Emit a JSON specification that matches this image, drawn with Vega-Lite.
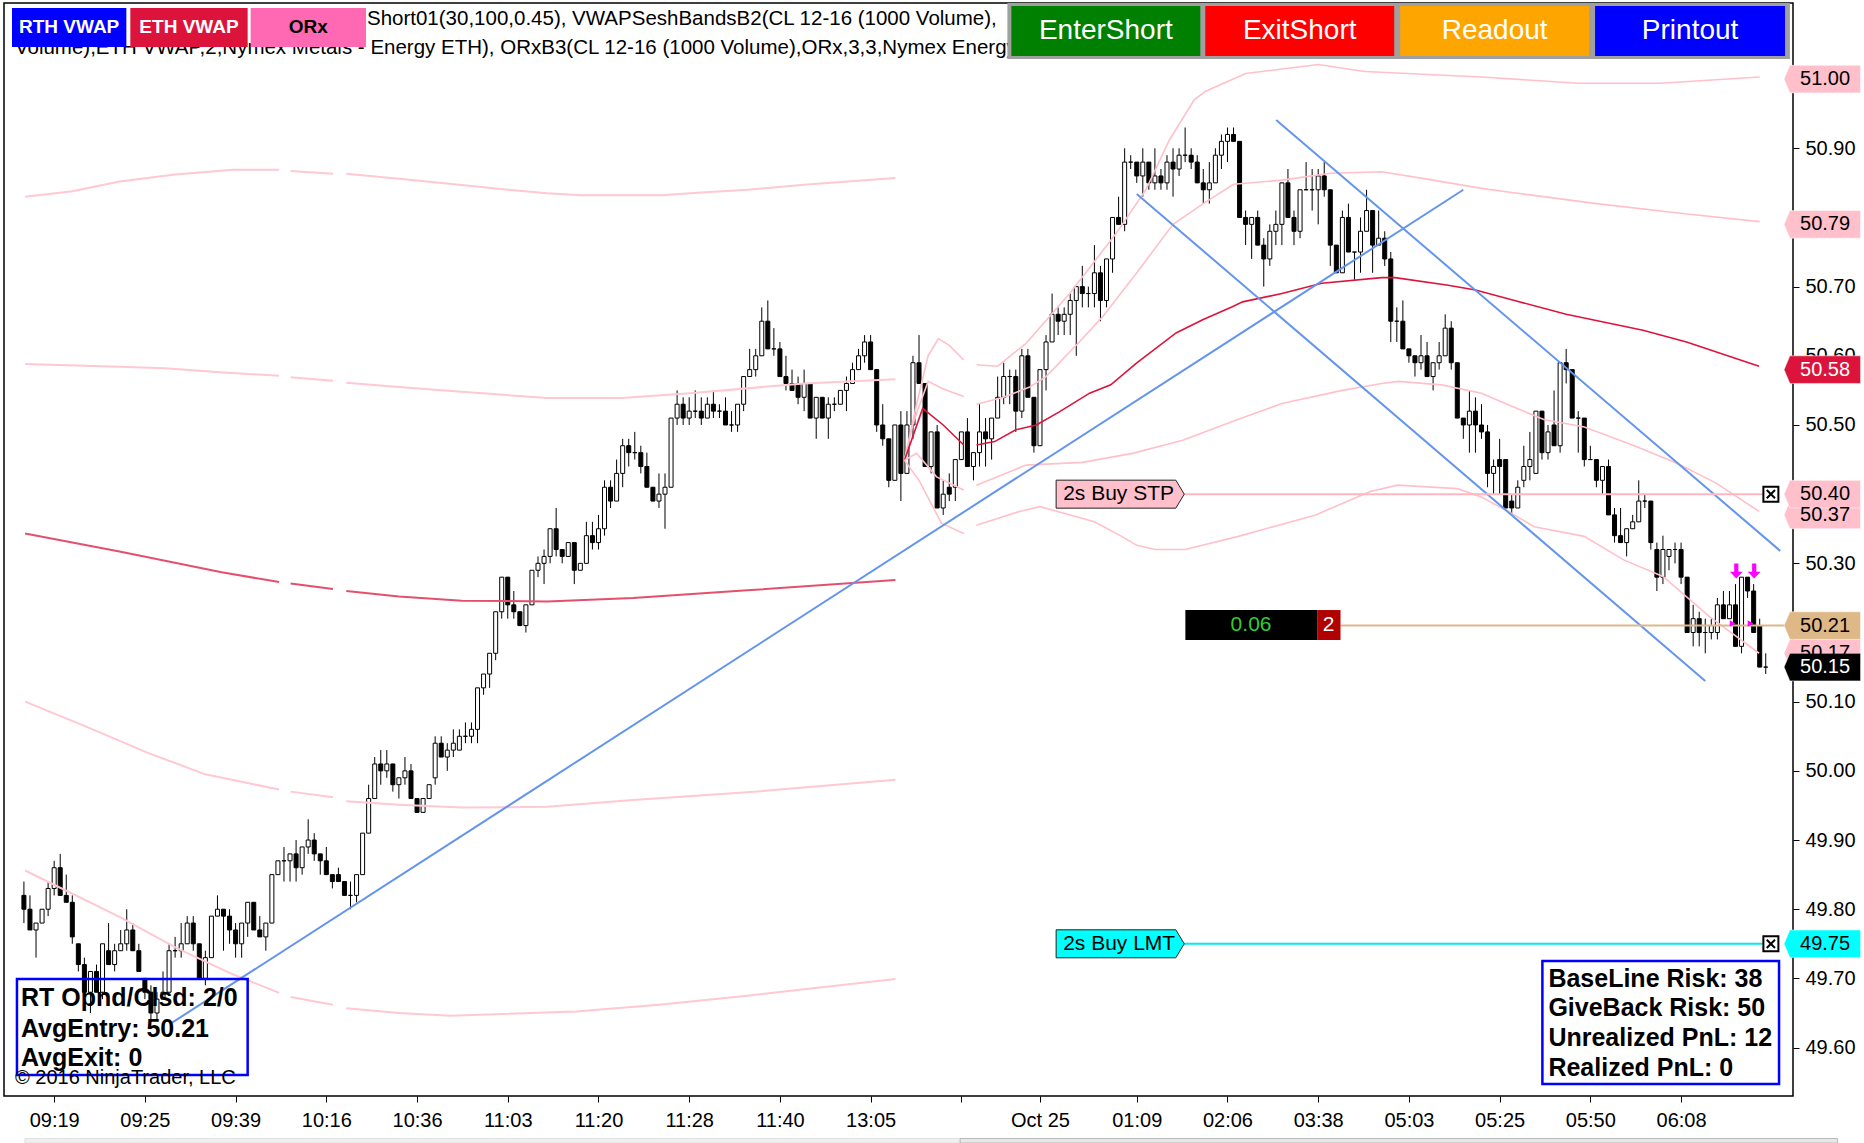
{
"$schema":"https://vega.github.io/schema/vega-lite/v6.json",
"width":1789,"height":1093,
"autosize":{"type":"none"},
"padding":{"left":4,"top":3,"right":71,"bottom":47},
"background":"white",
"config":{"view":{"stroke":"black","strokeWidth":1.5},"font":"Liberation Sans"},
"datasets":{
"candles":[
{"i":0,"o":49.82,"h":49.84,"l":49.78,"c":49.80},{"i":1,"o":49.80,"h":49.82,"l":49.77,"c":49.77},{"i":2,"o":49.77,"h":49.78,"l":49.73,"c":49.78},{"i":3,"o":49.78,"h":49.80,"l":49.78,"c":49.80},{"i":4,"o":49.80,"h":49.84,"l":49.79,"c":49.83},{"i":5,"o":49.83,"h":49.87,"l":49.82,"c":49.86},{"i":6,"o":49.86,"h":49.88,"l":49.82,"c":49.82},{"i":7,"o":49.82,"h":49.85,"l":49.81,"c":49.81},{"i":8,"o":49.81,"h":49.82,"l":49.75,"c":49.76},{"i":9,"o":49.75,"h":49.75,"l":49.71,"c":49.72},
{"i":10,"o":49.72,"h":49.73,"l":49.68,"c":49.68},{"i":11,"o":49.68,"h":49.71,"l":49.65,"c":49.71},{"i":12,"o":49.71,"h":49.72,"l":49.68,"c":49.68},{"i":13,"o":49.68,"h":49.75,"l":49.67,"c":49.75},{"i":14,"o":49.74,"h":49.78,"l":49.72,"c":49.72},{"i":15,"o":49.72,"h":49.75,"l":49.71,"c":49.74},{"i":16,"o":49.74,"h":49.77,"l":49.74,"c":49.75},{"i":17,"o":49.75,"h":49.80,"l":49.74,"c":49.77},{"i":18,"o":49.77,"h":49.78,"l":49.74,"c":49.74},{"i":19,"o":49.74,"h":49.75,"l":49.71,"c":49.71},
{"i":20,"o":49.70,"h":49.70,"l":49.67,"c":49.68},{"i":21,"o":49.68,"h":49.69,"l":49.64,"c":49.65},{"i":22,"o":49.65,"h":49.68,"l":49.64,"c":49.67},{"i":23,"o":49.67,"h":49.71,"l":49.67,"c":49.68},{"i":24,"o":49.68,"h":49.75,"l":49.68,"c":49.74},{"i":25,"o":49.74,"h":49.76,"l":49.73,"c":49.74},{"i":26,"o":49.74,"h":49.78,"l":49.73,"c":49.75},{"i":27,"o":49.75,"h":49.79,"l":49.75,"c":49.78},{"i":28,"o":49.78,"h":49.79,"l":49.74,"c":49.75},{"i":29,"o":49.75,"h":49.75,"l":49.70,"c":49.70},
{"i":30,"o":49.70,"h":49.74,"l":49.69,"c":49.73},{"i":31,"o":49.73,"h":49.79,"l":49.73,"c":49.79},{"i":32,"o":49.79,"h":49.82,"l":49.79,"c":49.80},{"i":33,"o":49.80,"h":49.80,"l":49.74,"c":49.79},{"i":34,"o":49.79,"h":49.80,"l":49.75,"c":49.77},{"i":35,"o":49.77,"h":49.78,"l":49.73,"c":49.75},{"i":36,"o":49.75,"h":49.78,"l":49.73,"c":49.78},{"i":37,"o":49.78,"h":49.81,"l":49.76,"c":49.81},{"i":38,"o":49.81,"h":49.81,"l":49.77,"c":49.77},{"i":39,"o":49.77,"h":49.79,"l":49.76,"c":49.76},
{"i":40,"o":49.76,"h":49.78,"l":49.74,"c":49.78},{"i":41,"o":49.78,"h":49.85,"l":49.78,"c":49.85},{"i":42,"o":49.85,"h":49.87,"l":49.85,"c":49.87},{"i":43,"o":49.87,"h":49.89,"l":49.84,"c":49.87},{"i":44,"o":49.87,"h":49.88,"l":49.84,"c":49.88},{"i":45,"o":49.88,"h":49.90,"l":49.84,"c":49.86},{"i":46,"o":49.86,"h":49.89,"l":49.85,"c":49.89},{"i":47,"o":49.89,"h":49.93,"l":49.88,"c":49.90},{"i":48,"o":49.90,"h":49.91,"l":49.87,"c":49.88},{"i":49,"o":49.88,"h":49.88,"l":49.85,"c":49.87},
{"i":50,"o":49.87,"h":49.89,"l":49.85,"c":49.85},{"i":51,"o":49.85,"h":49.85,"l":49.83,"c":49.84},{"i":52,"o":49.85,"h":49.86,"l":49.84,"c":49.84},{"i":53,"o":49.84,"h":49.84,"l":49.82,"c":49.82},{"i":54,"o":49.82,"h":49.84,"l":49.80,"c":49.82},{"i":55,"o":49.82,"h":49.85,"l":49.81,"c":49.85},{"i":56,"o":49.85,"h":49.91,"l":49.85,"c":49.91},{"i":57,"o":49.91,"h":49.98,"l":49.91,"c":49.96},{"i":58,"o":49.96,"h":50.02,"l":49.96,"c":50.01},{"i":59,"o":50.01,"h":50.03,"l":49.98,"c":50.00},
{"i":60,"o":50.00,"h":50.03,"l":49.99,"c":50.01},{"i":61,"o":50.01,"h":50.01,"l":49.97,"c":49.98},{"i":62,"o":49.98,"h":49.99,"l":49.96,"c":49.99},{"i":63,"o":49.99,"h":50.02,"l":49.98,"c":50.00},{"i":64,"o":50.00,"h":50.01,"l":49.96,"c":49.96},{"i":65,"o":49.96,"h":49.96,"l":49.94,"c":49.94},{"i":66,"o":49.94,"h":49.96,"l":49.94,"c":49.96},{"i":67,"o":49.96,"h":49.98,"l":49.96,"c":49.98},{"i":68,"o":49.99,"h":50.05,"l":49.98,"c":50.04},{"i":69,"o":50.04,"h":50.05,"l":50.02,"c":50.02},
{"i":70,"o":50.02,"h":50.04,"l":50.00,"c":50.03},{"i":71,"o":50.03,"h":50.06,"l":50.02,"c":50.04},{"i":72,"o":50.03,"h":50.06,"l":50.03,"c":50.05},{"i":73,"o":50.05,"h":50.07,"l":50.04,"c":50.05},{"i":74,"o":50.05,"h":50.07,"l":50.04,"c":50.06},{"i":75,"o":50.06,"h":50.12,"l":50.04,"c":50.12},{"i":76,"o":50.12,"h":50.14,"l":50.11,"c":50.14},{"i":77,"o":50.14,"h":50.17,"l":50.12,"c":50.17},{"i":78,"o":50.17,"h":50.23,"l":50.16,"c":50.23},{"i":79,"o":50.23,"h":50.28,"l":50.22,"c":50.28},
{"i":80,"o":50.28,"h":50.28,"l":50.22,"c":50.24},{"i":81,"o":50.24,"h":50.26,"l":50.22,"c":50.23},{"i":82,"o":50.23,"h":50.23,"l":50.21,"c":50.21},{"i":83,"o":50.21,"h":50.24,"l":50.20,"c":50.24},{"i":84,"o":50.24,"h":50.29,"l":50.24,"c":50.29},{"i":85,"o":50.29,"h":50.31,"l":50.28,"c":50.30},{"i":86,"o":50.30,"h":50.32,"l":50.27,"c":50.31},{"i":87,"o":50.31,"h":50.35,"l":50.30,"c":50.35},{"i":88,"o":50.35,"h":50.38,"l":50.31,"c":50.32},{"i":89,"o":50.32,"h":50.32,"l":50.30,"c":50.31},
{"i":90,"o":50.31,"h":50.33,"l":50.31,"c":50.33},{"i":91,"o":50.33,"h":50.33,"l":50.27,"c":50.29},{"i":92,"o":50.29,"h":50.30,"l":50.29,"c":50.30},{"i":93,"o":50.30,"h":50.36,"l":50.30,"c":50.34},{"i":94,"o":50.34,"h":50.36,"l":50.32,"c":50.33},{"i":95,"o":50.33,"h":50.37,"l":50.32,"c":50.35},{"i":96,"o":50.35,"h":50.42,"l":50.34,"c":50.41},{"i":97,"o":50.41,"h":50.42,"l":50.38,"c":50.39},{"i":98,"o":50.39,"h":50.45,"l":50.39,"c":50.43},{"i":99,"o":50.43,"h":50.48,"l":50.41,"c":50.47},
{"i":100,"o":50.47,"h":50.48,"l":50.44,"c":50.46},{"i":101,"o":50.46,"h":50.49,"l":50.45,"c":50.46},{"i":102,"o":50.46,"h":50.47,"l":50.43,"c":50.44},{"i":103,"o":50.44,"h":50.46,"l":50.41,"c":50.41},{"i":104,"o":50.41,"h":50.41,"l":50.39,"c":50.39},{"i":105,"o":50.39,"h":50.43,"l":50.38,"c":50.40},{"i":106,"o":50.40,"h":50.43,"l":50.35,"c":50.41},{"i":107,"o":50.41,"h":50.51,"l":50.41,"c":50.51},{"i":108,"o":50.51,"h":50.55,"l":50.50,"c":50.53},{"i":109,"o":50.53,"h":50.54,"l":50.50,"c":50.51},
{"i":110,"o":50.51,"h":50.54,"l":50.50,"c":50.52},{"i":111,"o":50.52,"h":50.55,"l":50.51,"c":50.52},{"i":112,"o":50.52,"h":50.54,"l":50.50,"c":50.51},{"i":113,"o":50.51,"h":50.54,"l":50.51,"c":50.53},{"i":114,"o":50.53,"h":50.55,"l":50.51,"c":50.52},{"i":115,"o":50.52,"h":50.53,"l":50.51,"c":50.52},{"i":116,"o":50.52,"h":50.54,"l":50.50,"c":50.50},{"i":117,"o":50.50,"h":50.52,"l":50.49,"c":50.50},{"i":118,"o":50.50,"h":50.53,"l":50.49,"c":50.53},{"i":119,"o":50.53,"h":50.57,"l":50.52,"c":50.57},
{"i":120,"o":50.57,"h":50.61,"l":50.57,"c":50.58},{"i":121,"o":50.58,"h":50.61,"l":50.57,"c":50.60},{"i":122,"o":50.60,"h":50.67,"l":50.60,"c":50.65},{"i":123,"o":50.65,"h":50.68,"l":50.61,"c":50.61},{"i":124,"o":50.61,"h":50.64,"l":50.60,"c":50.61},{"i":125,"o":50.61,"h":50.62,"l":50.57,"c":50.57},{"i":126,"o":50.57,"h":50.60,"l":50.55,"c":50.56},{"i":127,"o":50.56,"h":50.58,"l":50.55,"c":50.55},{"i":128,"o":50.56,"h":50.57,"l":50.53,"c":50.54},{"i":129,"o":50.54,"h":50.58,"l":50.52,"c":50.56},
{"i":130,"o":50.56,"h":50.56,"l":50.51,"c":50.51},{"i":131,"o":50.51,"h":50.54,"l":50.48,"c":50.54},{"i":132,"o":50.54,"h":50.54,"l":50.51,"c":50.51},{"i":133,"o":50.51,"h":50.54,"l":50.48,"c":50.53},{"i":134,"o":50.53,"h":50.54,"l":50.52,"c":50.53},{"i":135,"o":50.53,"h":50.55,"l":50.53,"c":50.55},{"i":136,"o":50.55,"h":50.57,"l":50.52,"c":50.56},{"i":137,"o":50.56,"h":50.59,"l":50.56,"c":50.58},{"i":138,"o":50.58,"h":50.61,"l":50.58,"c":50.60},{"i":139,"o":50.60,"h":50.63,"l":50.59,"c":50.62},
{"i":140,"o":50.62,"h":50.63,"l":50.58,"c":50.58},{"i":141,"o":50.58,"h":50.58,"l":50.49,"c":50.50},{"i":142,"o":50.50,"h":50.53,"l":50.47,"c":50.48},{"i":143,"o":50.48,"h":50.48,"l":50.41,"c":50.42},{"i":144,"o":50.42,"h":50.50,"l":50.42,"c":50.50},{"i":145,"o":50.50,"h":50.52,"l":50.39,"c":50.43},{"i":146,"o":50.43,"h":50.52,"l":50.43,"c":50.50},{"i":147,"o":50.50,"h":50.60,"l":50.48,"c":50.59},{"i":148,"o":50.59,"h":50.63,"l":50.56,"c":50.56},{"i":149,"o":50.56,"h":50.56,"l":50.44,"c":50.44},
{"i":150,"o":50.44,"h":50.49,"l":50.43,"c":50.49},{"i":151,"o":50.49,"h":50.50,"l":50.38,"c":50.38},{"i":152,"o":50.38,"h":50.42,"l":50.37,"c":50.40},{"i":153,"o":50.41,"h":50.43,"l":50.39,"c":50.40},{"i":154,"o":50.41,"h":50.45,"l":50.39,"c":50.45},{"i":155,"o":50.45,"h":50.49,"l":50.45,"c":50.49},{"i":156,"o":50.49,"h":50.51,"l":50.44,"c":50.44},{"i":157,"o":50.44,"h":50.46,"l":50.42,"c":50.46},{"i":158,"o":50.46,"h":50.53,"l":50.44,"c":50.49},{"i":159,"o":50.49,"h":50.51,"l":50.44,"c":50.48},
{"i":160,"o":50.48,"h":50.51,"l":50.45,"c":50.51},{"i":161,"o":50.51,"h":50.57,"l":50.51,"c":50.54},{"i":162,"o":50.54,"h":50.59,"l":50.53,"c":50.57},{"i":163,"o":50.57,"h":50.58,"l":50.53,"c":50.57},{"i":164,"o":50.57,"h":50.58,"l":50.49,"c":50.52},{"i":165,"o":50.52,"h":50.61,"l":50.51,"c":50.60},{"i":166,"o":50.60,"h":50.61,"l":50.54,"c":50.54},{"i":167,"o":50.54,"h":50.54,"l":50.46,"c":50.47},{"i":168,"o":50.47,"h":50.58,"l":50.47,"c":50.58},{"i":169,"o":50.58,"h":50.63,"l":50.55,"c":50.62},
{"i":170,"o":50.62,"h":50.69,"l":50.62,"c":50.66},{"i":171,"o":50.66,"h":50.67,"l":50.63,"c":50.65},{"i":172,"o":50.65,"h":50.67,"l":50.63,"c":50.66},{"i":173,"o":50.66,"h":50.69,"l":50.63,"c":50.68},{"i":174,"o":50.68,"h":50.70,"l":50.60,"c":50.70},{"i":175,"o":50.70,"h":50.73,"l":50.67,"c":50.69},{"i":176,"o":50.69,"h":50.70,"l":50.67,"c":50.69},{"i":177,"o":50.69,"h":50.76,"l":50.67,"c":50.72},{"i":178,"o":50.72,"h":50.73,"l":50.65,"c":50.68},{"i":179,"o":50.68,"h":50.74,"l":50.67,"c":50.74},
{"i":180,"o":50.74,"h":50.80,"l":50.72,"c":50.80},{"i":181,"o":50.80,"h":50.83,"l":50.79,"c":50.79},{"i":182,"o":50.79,"h":50.90,"l":50.78,"c":50.88},{"i":183,"o":50.88,"h":50.89,"l":50.87,"c":50.88},{"i":184,"o":50.88,"h":50.88,"l":50.85,"c":50.86},{"i":185,"o":50.86,"h":50.90,"l":50.83,"c":50.88},{"i":186,"o":50.88,"h":50.88,"l":50.84,"c":50.85},{"i":187,"o":50.85,"h":50.90,"l":50.84,"c":50.86},{"i":188,"o":50.86,"h":50.87,"l":50.84,"c":50.85},{"i":189,"o":50.85,"h":50.89,"l":50.84,"c":50.88},
{"i":190,"o":50.88,"h":50.90,"l":50.83,"c":50.87},{"i":191,"o":50.87,"h":50.90,"l":50.86,"c":50.89},{"i":192,"o":50.89,"h":50.93,"l":50.88,"c":50.89},{"i":193,"o":50.89,"h":50.90,"l":50.87,"c":50.88},{"i":194,"o":50.88,"h":50.89,"l":50.85,"c":50.85},{"i":195,"o":50.85,"h":50.87,"l":50.82,"c":50.84},{"i":196,"o":50.84,"h":50.88,"l":50.82,"c":50.85},{"i":197,"o":50.85,"h":50.90,"l":50.85,"c":50.89},{"i":198,"o":50.89,"h":50.92,"l":50.87,"c":50.91},{"i":199,"o":50.91,"h":50.93,"l":50.88,"c":50.92},
{"i":200,"o":50.92,"h":50.93,"l":50.91,"c":50.91},{"i":201,"o":50.91,"h":50.91,"l":50.80,"c":50.80},{"i":202,"o":50.80,"h":50.81,"l":50.76,"c":50.79},{"i":203,"o":50.79,"h":50.80,"l":50.74,"c":50.80},{"i":204,"o":50.80,"h":50.81,"l":50.76,"c":50.76},{"i":205,"o":50.76,"h":50.77,"l":50.70,"c":50.74},{"i":206,"o":50.74,"h":50.79,"l":50.73,"c":50.78},{"i":207,"o":50.78,"h":50.81,"l":50.76,"c":50.79},{"i":208,"o":50.79,"h":50.85,"l":50.76,"c":50.85},{"i":209,"o":50.85,"h":50.87,"l":50.80,"c":50.80},
{"i":210,"o":50.80,"h":50.81,"l":50.76,"c":50.78},{"i":211,"o":50.78,"h":50.84,"l":50.77,"c":50.84},{"i":212,"o":50.84,"h":50.88,"l":50.84,"c":50.84},{"i":213,"o":50.84,"h":50.87,"l":50.81,"c":50.84},{"i":214,"o":50.84,"h":50.87,"l":50.79,"c":50.86},{"i":215,"o":50.86,"h":50.88,"l":50.83,"c":50.84},{"i":216,"o":50.84,"h":50.84,"l":50.73,"c":50.76},{"i":217,"o":50.76,"h":50.76,"l":50.72,"c":50.72},{"i":218,"o":50.72,"h":50.81,"l":50.72,"c":50.80},{"i":219,"o":50.80,"h":50.82,"l":50.75,"c":50.75},
{"i":220,"o":50.75,"h":50.75,"l":50.71,"c":50.75},{"i":221,"o":50.75,"h":50.80,"l":50.72,"c":50.78},{"i":222,"o":50.78,"h":50.84,"l":50.78,"c":50.81},{"i":223,"o":50.81,"h":50.81,"l":50.72,"c":50.76},{"i":224,"o":50.76,"h":50.81,"l":50.76,"c":50.77},{"i":225,"o":50.77,"h":50.78,"l":50.73,"c":50.74},{"i":226,"o":50.74,"h":50.75,"l":50.62,"c":50.65},{"i":227,"o":50.65,"h":50.67,"l":50.62,"c":50.65},{"i":228,"o":50.65,"h":50.68,"l":50.61,"c":50.61},{"i":229,"o":50.61,"h":50.61,"l":50.59,"c":50.60},
{"i":230,"o":50.60,"h":50.60,"l":50.57,"c":50.59},{"i":231,"o":50.59,"h":50.63,"l":50.58,"c":50.60},{"i":232,"o":50.60,"h":50.62,"l":50.57,"c":50.57},{"i":233,"o":50.57,"h":50.59,"l":50.55,"c":50.59},{"i":234,"o":50.59,"h":50.62,"l":50.58,"c":50.60},{"i":235,"o":50.60,"h":50.66,"l":50.60,"c":50.64},{"i":236,"o":50.64,"h":50.65,"l":50.58,"c":50.59},{"i":237,"o":50.59,"h":50.59,"l":50.51,"c":50.51},{"i":238,"o":50.51,"h":50.51,"l":50.48,"c":50.50},{"i":239,"o":50.50,"h":50.55,"l":50.46,"c":50.52},
{"i":240,"o":50.52,"h":50.54,"l":50.46,"c":50.50},{"i":241,"o":50.50,"h":50.53,"l":50.48,"c":50.49},{"i":242,"o":50.49,"h":50.50,"l":50.41,"c":50.43},{"i":243,"o":50.43,"h":50.45,"l":50.40,"c":50.44},{"i":244,"o":50.45,"h":50.48,"l":50.40,"c":50.44},{"i":245,"o":50.45,"h":50.45,"l":50.38,"c":50.38},{"i":246,"o":50.39,"h":50.40,"l":50.37,"c":50.38},{"i":247,"o":50.38,"h":50.42,"l":50.38,"c":50.41},{"i":248,"o":50.42,"h":50.47,"l":50.41,"c":50.44},{"i":249,"o":50.44,"h":50.49,"l":50.42,"c":50.45},
{"i":250,"o":50.43,"h":50.52,"l":50.43,"c":50.52},{"i":251,"o":50.52,"h":50.52,"l":50.45,"c":50.46},{"i":252,"o":50.46,"h":50.50,"l":50.45,"c":50.49},{"i":253,"o":50.50,"h":50.55,"l":50.47,"c":50.47},{"i":254,"o":50.47,"h":50.59,"l":50.46,"c":50.59},{"i":255,"o":50.59,"h":50.61,"l":50.56,"c":50.58},{"i":256,"o":50.58,"h":50.58,"l":50.51,"c":50.51},{"i":257,"o":50.51,"h":50.52,"l":50.46,"c":50.51},{"i":258,"o":50.51,"h":50.51,"l":50.44,"c":50.45},{"i":259,"o":50.45,"h":50.47,"l":50.45,"c":50.45},
{"i":260,"o":50.45,"h":50.45,"l":50.41,"c":50.42},{"i":261,"o":50.42,"h":50.44,"l":50.40,"c":50.44},{"i":262,"o":50.44,"h":50.45,"l":50.37,"c":50.37},{"i":263,"o":50.37,"h":50.38,"l":50.33,"c":50.34},{"i":264,"o":50.34,"h":50.38,"l":50.33,"c":50.33},{"i":265,"o":50.33,"h":50.35,"l":50.31,"c":50.35},{"i":266,"o":50.35,"h":50.37,"l":50.35,"c":50.36},{"i":267,"o":50.36,"h":50.42,"l":50.36,"c":50.39},{"i":268,"o":50.39,"h":50.40,"l":50.38,"c":50.39},{"i":269,"o":50.39,"h":50.39,"l":50.32,"c":50.33},
{"i":270,"o":50.32,"h":50.33,"l":50.26,"c":50.28},{"i":271,"o":50.28,"h":50.34,"l":50.27,"c":50.32},{"i":272,"o":50.31,"h":50.32,"l":50.29,"c":50.32},{"i":273,"o":50.32,"h":50.33,"l":50.30,"c":50.32},{"i":274,"o":50.32,"h":50.33,"l":50.27,"c":50.28},{"i":275,"o":50.28,"h":50.28,"l":50.20,"c":50.20},{"i":276,"o":50.20,"h":50.24,"l":50.18,"c":50.22},{"i":277,"o":50.22,"h":50.23,"l":50.18,"c":50.20},{"i":278,"o":50.20,"h":50.22,"l":50.17,"c":50.20},{"i":279,"o":50.20,"h":50.22,"l":50.19,"c":50.21},
{"i":280,"o":50.20,"h":50.25,"l":50.19,"c":50.24},{"i":281,"o":50.24,"h":50.26,"l":50.22,"c":50.22},{"i":282,"o":50.22,"h":50.26,"l":50.22,"c":50.24},{"i":283,"o":50.24,"h":50.27,"l":50.18,"c":50.18},{"i":284,"o":50.18,"h":50.28,"l":50.17,"c":50.28},{"i":285,"o":50.28,"h":50.28,"l":50.25,"c":50.26},{"i":286,"o":50.26,"h":50.27,"l":50.20,"c":50.20},{"i":287,"o":50.21,"h":50.22,"l":50.15,"c":50.15},{"i":288,"o":50.15,"h":50.17,"l":50.14,"c":50.15}
],
"bands":[
{"s":"r","g":"rt1","b":"o","i":0.2,"v":50.830},{"s":"r","g":"rt1","b":"o","i":8,"v":50.838},{"s":"r","g":"rt1","b":"o","i":15.8,"v":50.852},{"s":"r","g":"rt1","b":"o","i":25,"v":50.862},{"s":"r","g":"rt1","b":"o","i":34.6,"v":50.869},{"s":"r","g":"rt1","b":"o","i":42.2,"v":50.869},
{"s":"r","g":"rt2","b":"o","i":44.1,"v":50.867},{"s":"r","g":"rt2","b":"o","i":51.1,"v":50.863},
{"s":"r","g":"rt3","b":"o","i":53.3,"v":50.863},{"s":"r","g":"rt3","b":"o","i":62,"v":50.856},{"s":"r","g":"rt3","b":"o","i":72.4,"v":50.847},{"s":"r","g":"rt3","b":"o","i":80,"v":50.840},{"s":"r","g":"rt3","b":"o","i":86.5,"v":50.835},{"s":"r","g":"rt3","b":"o","i":92.2,"v":50.832},{"s":"r","g":"rt3","b":"o","i":105.4,"v":50.832},{"s":"r","g":"rt3","b":"o","i":112,"v":50.836},{"s":"r","g":"rt3","b":"o","i":119.6,"v":50.840},{"s":"r","g":"rt3","b":"o","i":130,"v":50.848},{"s":"r","g":"rt3","b":"o","i":144.1,"v":50.857},
{"s":"r","g":"ru1","b":"o","i":0.2,"v":50.588},{"s":"r","g":"ru1","b":"o","i":15.8,"v":50.584},{"s":"r","g":"ru1","b":"o","i":23.3,"v":50.582},{"s":"r","g":"ru1","b":"o","i":33,"v":50.576},{"s":"r","g":"ru1","b":"o","i":42.2,"v":50.571},
{"s":"r","g":"ru2","b":"o","i":44.1,"v":50.569},{"s":"r","g":"ru2","b":"o","i":51.1,"v":50.564},
{"s":"r","g":"ru3","b":"o","i":53.3,"v":50.561},{"s":"r","g":"ru3","b":"o","i":62,"v":50.555},{"s":"r","g":"ru3","b":"o","i":72.4,"v":50.548},{"s":"r","g":"ru3","b":"o","i":86.5,"v":50.539},{"s":"r","g":"ru3","b":"o","i":98.8,"v":50.539},{"s":"r","g":"ru3","b":"o","i":110.1,"v":50.546},{"s":"r","g":"ru3","b":"o","i":129,"v":50.560},{"s":"r","g":"ru3","b":"o","i":144.1,"v":50.566},
{"s":"r","g":"rv1","b":"v","i":0.2,"v":50.343},{"s":"r","g":"rv1","b":"v","i":15.8,"v":50.317},{"s":"r","g":"rv1","b":"v","i":32.7,"v":50.287},{"s":"r","g":"rv1","b":"v","i":42.2,"v":50.273},
{"s":"r","g":"rv2","b":"v","i":44.1,"v":50.271},{"s":"r","g":"rv2","b":"v","i":51.1,"v":50.263},
{"s":"r","g":"rv3","b":"v","i":53.3,"v":50.260},{"s":"r","g":"rv3","b":"v","i":62,"v":50.252},{"s":"r","g":"rv3","b":"v","i":72.4,"v":50.246},{"s":"r","g":"rv3","b":"v","i":86.5,"v":50.245},{"s":"r","g":"rv3","b":"v","i":100.7,"v":50.250},{"s":"r","g":"rv3","b":"v","i":119.6,"v":50.261},{"s":"r","g":"rv3","b":"v","i":144.1,"v":50.276},
{"s":"r","g":"rl1","b":"o","i":0.2,"v":50.1},{"s":"r","g":"rl1","b":"o","i":10,"v":50.065},{"s":"r","g":"rl1","b":"o","i":20.5,"v":50.026},{"s":"r","g":"rl1","b":"o","i":30,"v":49.995},{"s":"r","g":"rl1","b":"o","i":42.2,"v":49.973},
{"s":"r","g":"rl2","b":"o","i":44.1,"v":49.970},{"s":"r","g":"rl2","b":"o","i":51.1,"v":49.962},
{"s":"r","g":"rl3","b":"o","i":53.3,"v":49.956},{"s":"r","g":"rl3","b":"o","i":62,"v":49.951},{"s":"r","g":"rl3","b":"o","i":72.4,"v":49.947},{"s":"r","g":"rl3","b":"o","i":86.5,"v":49.948},{"s":"r","g":"rl3","b":"o","i":100.7,"v":49.958},{"s":"r","g":"rl3","b":"o","i":119.6,"v":49.969},{"s":"r","g":"rl3","b":"o","i":144.1,"v":49.987},
{"s":"r","g":"rb1","b":"o","i":0.2,"v":49.856},{"s":"r","g":"rb1","b":"o","i":15.8,"v":49.789},{"s":"r","g":"rb1","b":"o","i":25.2,"v":49.744},{"s":"r","g":"rb1","b":"o","i":34,"v":49.708},{"s":"r","g":"rb1","b":"o","i":42.2,"v":49.679},
{"s":"r","g":"rb2","b":"o","i":44.1,"v":49.673},{"s":"r","g":"rb2","b":"o","i":51.1,"v":49.662},
{"s":"r","g":"rb3","b":"o","i":53.3,"v":49.657},{"s":"r","g":"rb3","b":"o","i":62,"v":49.650},{"s":"r","g":"rb3","b":"o","i":70.5,"v":49.646},{"s":"r","g":"rb3","b":"o","i":91.3,"v":49.652},{"s":"r","g":"rb3","b":"o","i":105,"v":49.662},{"s":"r","g":"rb3","b":"o","i":119.6,"v":49.675},{"s":"r","g":"rb3","b":"o","i":144.1,"v":49.699},
{"s":"e","g":"et1","b":"o","i":145.6,"v":50.449},{"s":"e","g":"et1","b":"o","i":147.6,"v":50.53},{"s":"e","g":"et1","b":"o","i":149.5,"v":50.6},{"s":"e","g":"et1","b":"o","i":151.2,"v":50.625},{"s":"e","g":"et1","b":"o","i":153,"v":50.615},{"s":"e","g":"et1","b":"o","i":155.4,"v":50.594},
{"s":"e","g":"et2","b":"o","i":157.5,"v":50.587},{"s":"e","g":"et2","b":"o","i":161,"v":50.585},{"s":"e","g":"et2","b":"o","i":165.7,"v":50.618},{"s":"e","g":"et2","b":"o","i":172.9,"v":50.69},{"s":"e","g":"et2","b":"o","i":180.6,"v":50.777},{"s":"e","g":"et2","b":"o","i":185.5,"v":50.84},{"s":"e","g":"et2","b":"o","i":189.4,"v":50.912},{"s":"e","g":"et2","b":"o","i":193.5,"v":50.97},{"s":"e","g":"et2","b":"o","i":195.3,"v":50.982},{"s":"e","g":"et2","b":"o","i":202,"v":51.008},{"s":"e","g":"et2","b":"o","i":214,"v":51.021},{"s":"e","g":"et2","b":"o","i":221.7,"v":51.011},{"s":"e","g":"et2","b":"o","i":241,"v":51.003},{"s":"e","g":"et2","b":"o","i":257,"v":50.994},{"s":"e","g":"et2","b":"o","i":270.6,"v":50.994},{"s":"e","g":"et2","b":"o","i":287,"v":51.003},
{"s":"e","g":"eu1","b":"o","i":145.6,"v":50.449},{"s":"e","g":"eu1","b":"o","i":147,"v":50.502},{"s":"e","g":"eu1","b":"o","i":149.5,"v":50.563},{"s":"e","g":"eu1","b":"o","i":152,"v":50.552},{"s":"e","g":"eu1","b":"o","i":155.4,"v":50.541},
{"s":"e","g":"eu2","b":"o","i":157.5,"v":50.53},{"s":"e","g":"eu2","b":"o","i":162,"v":50.54},{"s":"e","g":"eu2","b":"o","i":166.3,"v":50.555},{"s":"e","g":"eu2","b":"o","i":169,"v":50.57},{"s":"e","g":"eu2","b":"o","i":174.5,"v":50.62},{"s":"e","g":"eu2","b":"o","i":178.4,"v":50.657},{"s":"e","g":"eu2","b":"o","i":184,"v":50.72},{"s":"e","g":"eu2","b":"o","i":190,"v":50.79},{"s":"e","g":"eu2","b":"o","i":195,"v":50.82},{"s":"e","g":"eu2","b":"o","i":200,"v":50.848},{"s":"e","g":"eu2","b":"o","i":208,"v":50.854},{"s":"e","g":"eu2","b":"o","i":216,"v":50.864},{"s":"e","g":"eu2","b":"o","i":224.5,"v":50.866},{"s":"e","g":"eu2","b":"o","i":233,"v":50.854},{"s":"e","g":"eu2","b":"o","i":241,"v":50.842},{"s":"e","g":"eu2","b":"o","i":246,"v":50.836},{"s":"e","g":"eu2","b":"o","i":260,"v":50.82},{"s":"e","g":"eu2","b":"o","i":275,"v":50.805},{"s":"e","g":"eu2","b":"o","i":287,"v":50.794},
{"s":"e","g":"ev1","b":"v","i":145.6,"v":50.449},{"s":"e","g":"ev1","b":"v","i":148.6,"v":50.524},{"s":"e","g":"ev1","b":"v","i":152,"v":50.5},{"s":"e","g":"ev1","b":"v","i":155.4,"v":50.471},
{"s":"e","g":"ev2","b":"v","i":157.5,"v":50.471},{"s":"e","g":"ev2","b":"v","i":160.5,"v":50.476},{"s":"e","g":"ev2","b":"v","i":164,"v":50.493},{"s":"e","g":"ev2","b":"v","i":167.4,"v":50.5},{"s":"e","g":"ev2","b":"v","i":171.2,"v":50.519},{"s":"e","g":"ev2","b":"v","i":176.2,"v":50.546},{"s":"e","g":"ev2","b":"v","i":179.7,"v":50.558},{"s":"e","g":"ev2","b":"v","i":183.9,"v":50.589},{"s":"e","g":"ev2","b":"v","i":190.5,"v":50.633},{"s":"e","g":"ev2","b":"v","i":194.9,"v":50.652},{"s":"e","g":"ev2","b":"v","i":199.8,"v":50.671},{"s":"e","g":"ev2","b":"v","i":201.5,"v":50.678},{"s":"e","g":"ev2","b":"v","i":208,"v":50.69},{"s":"e","g":"ev2","b":"v","i":214.6,"v":50.705},{"s":"e","g":"ev2","b":"v","i":224.5,"v":50.713},{"s":"e","g":"ev2","b":"v","i":226.7,"v":50.713},{"s":"e","g":"ev2","b":"v","i":235.5,"v":50.702},{"s":"e","g":"ev2","b":"v","i":240,"v":50.695},{"s":"e","g":"ev2","b":"v","i":246,"v":50.681},{"s":"e","g":"ev2","b":"v","i":255,"v":50.66},{"s":"e","g":"ev2","b":"v","i":267.7,"v":50.637},{"s":"e","g":"ev2","b":"v","i":274.9,"v":50.62},{"s":"e","g":"ev2","b":"v","i":286.9,"v":50.585},
{"s":"e","g":"el1","b":"o","i":145.6,"v":50.449},{"s":"e","g":"el1","b":"o","i":147.6,"v":50.459},{"s":"e","g":"el1","b":"o","i":150.9,"v":50.425},{"s":"e","g":"el1","b":"o","i":155.4,"v":50.406},
{"s":"e","g":"el2","b":"o","i":157.5,"v":50.413},{"s":"e","g":"el2","b":"o","i":165.7,"v":50.442},{"s":"e","g":"el2","b":"o","i":175,"v":50.446},{"s":"e","g":"el2","b":"o","i":183.3,"v":50.459},{"s":"e","g":"el2","b":"o","i":191.6,"v":50.478},{"s":"e","g":"el2","b":"o","i":199.8,"v":50.505},{"s":"e","g":"el2","b":"o","i":208,"v":50.531},{"s":"e","g":"el2","b":"o","i":218,"v":50.55},{"s":"e","g":"el2","b":"o","i":224.5,"v":50.56},{"s":"e","g":"el2","b":"o","i":227.3,"v":50.563},{"s":"e","g":"el2","b":"o","i":234.4,"v":50.558},{"s":"e","g":"el2","b":"o","i":241,"v":50.546},{"s":"e","g":"el2","b":"o","i":246,"v":50.527},{"s":"e","g":"el2","b":"o","i":251.3,"v":50.508},{"s":"e","g":"el2","b":"o","i":258,"v":50.497},{"s":"e","g":"el2","b":"o","i":266.6,"v":50.469},{"s":"e","g":"el2","b":"o","i":273.2,"v":50.445},{"s":"e","g":"el2","b":"o","i":279.8,"v":50.416},{"s":"e","g":"el2","b":"o","i":286.9,"v":50.375},
{"s":"e","g":"eb1","b":"o","i":145.6,"v":50.449},{"s":"e","g":"eb1","b":"o","i":148,"v":50.42},{"s":"e","g":"eb1","b":"o","i":151.7,"v":50.358},{"s":"e","g":"eb1","b":"o","i":155.4,"v":50.343},
{"s":"e","g":"eb2","b":"o","i":157.5,"v":50.355},{"s":"e","g":"eb2","b":"o","i":164.6,"v":50.375},{"s":"e","g":"eb2","b":"o","i":168,"v":50.382},{"s":"e","g":"eb2","b":"o","i":173,"v":50.37},{"s":"e","g":"eb2","b":"o","i":177,"v":50.36},{"s":"e","g":"eb2","b":"o","i":181.5,"v":50.339},{"s":"e","g":"eb2","b":"o","i":184,"v":50.326},{"s":"e","g":"eb2","b":"o","i":187.1,"v":50.32},{"s":"e","g":"eb2","b":"o","i":192,"v":50.32},{"s":"e","g":"eb2","b":"o","i":200.8,"v":50.339},{"s":"e","g":"eb2","b":"o","i":213.6,"v":50.37},{"s":"e","g":"eb2","b":"o","i":222.6,"v":50.404},{"s":"e","g":"eb2","b":"o","i":227.1,"v":50.413},{"s":"e","g":"eb2","b":"o","i":237,"v":50.408},{"s":"e","g":"eb2","b":"o","i":241,"v":50.396},{"s":"e","g":"eb2","b":"o","i":246,"v":50.372},{"s":"e","g":"eb2","b":"o","i":249.7,"v":50.353},{"s":"e","g":"eb2","b":"o","i":258,"v":50.339},{"s":"e","g":"eb2","b":"o","i":264.5,"v":50.305},{"s":"e","g":"eb2","b":"o","i":271,"v":50.281},{"s":"e","g":"eb2","b":"o","i":278.7,"v":50.223},{"s":"e","g":"eb2","b":"o","i":286.9,"v":50.17}
],
"tlines":[
{"g":"up","i":24.5,"v":49.636},{"g":"up","i":238.0,"v":50.840},
{"g":"d1","i":207.05,"v":50.941},{"g":"d1","i":290.4,"v":50.318},
{"g":"d2","i":184.0,"v":50.834},{"g":"d2","i":278.0,"v":50.130}
],
"olines":[
{"k":"stp","i":191.7,"i2":287.6,"v":50.40},
{"k":"lmt","i":191.7,"i2":287.6,"v":49.75},
{"k":"pos","i":217.69,"i2":291.68,"v":50.21}
],
"olabels":[
{"k":"stp","i":170.67,"v":50.40,"t":"2s Buy STP"},
{"k":"lmt","i":170.67,"v":49.75,"t":"2s Buy LMT"}
],
"xboxes":[{"i":288.85,"v":50.40},{"i":288.85,"v":49.75}],
"execs":[{"i":283.13,"v":50.289},{"i":286.09,"v":50.289}],
"fills":[{"i":282.53,"v":50.213},{"i":285.49,"v":50.213}],
"tags":[
{"i":291.03,"v":51.00,"t":"51.00","k":"p"},{"i":291.03,"v":50.79,"t":"50.79","k":"p"},{"i":291.03,"v":50.58,"t":"50.58","k":"r"},{"i":291.03,"v":50.37,"t":"50.37","k":"p"},{"i":291.03,"v":50.40,"t":"50.40","k":"p"},{"i":291.03,"v":50.17,"t":"50.17","k":"p"},{"i":291.03,"v":50.15,"t":"50.15","k":"b"},{"i":291.03,"v":50.21,"t":"50.21","k":"t"},{"i":291.03,"v":49.75,"t":"49.75","k":"c"}
],
"rects":[
{"k":"rth","i":-1.974,"i2":16.935,"v":51.1029,"v2":51.0465},
{"k":"eth","i":17.593,"i2":36.994,"v":51.1029,"v2":51.0465},
{"k":"orx","i":37.488,"i2":56.56,"v":51.1029,"v2":51.0465},
{"k":"frame","i":162.61,"i2":292.0,"v":51.110,"v2":51.029},
{"k":"enter","i":163.27,"i2":194.51,"v":51.1058,"v2":51.0335},
{"k":"exit","i":195.33,"i2":226.57,"v":51.1058,"v2":51.0335},
{"k":"read","i":227.56,"i2":258.80,"v":51.1058,"v2":51.0335},
{"k":"print","i":259.78,"i2":291.19,"v":51.1058,"v2":51.0335},
{"k":"posb","i":192.04,"i2":213.91,"v":50.2325,"v2":50.1892},
{"k":"posr","i":213.91,"i2":217.69,"v":50.2325,"v2":50.1892}
],
"scroll":[
{"k":"track","i":0.16,"i2":154.8,"v":49.4685,"v2":49.462},
{"k":"thumb","i":154.8,"i2":299.9,"v":49.4685,"v2":49.462}
],
"boxes":[
{"k":"l","i":-1.151,"i2":36.994,"v":49.6991,"v2":49.5603},
{"k":"r","i":251.07,"i2":290.2,"v":49.7251,"v2":49.5473}
],
"texts":[
{"k":"ind","i":56.72,"v":51.087,"t":"Short01(30,100,0.45), VWAPSeshBandsB2(CL 12-16 (1000 Volume),"},
{"k":"ind","i":-1.48,"v":51.0451,"t":"Volume),ETH VWAP,2,Nymex Metals - Energy ETH), ORxB3(CL 12-16 (1000 Volume),ORx,3,3,Nymex Energy ETH)"},
{"k":"legw","i":7.48,"v":51.0747,"t":"RTH VWAP"},
{"k":"legw","i":27.29,"v":51.0747,"t":"ETH VWAP"},
{"k":"legb","i":47.02,"v":51.0747,"t":"ORx"},
{"k":"btn","i":178.89,"v":51.0697,"t":"EnterShort"},
{"k":"btn","i":210.95,"v":51.0697,"t":"ExitShort"},
{"k":"btn","i":243.18,"v":51.0697,"t":"Readout"},
{"k":"btn","i":275.49,"v":51.0697,"t":"Printout"},
{"k":"bold","i":-0.49,"v":49.6716,"t":"RT Opnd/Clsd: 2/0"},
{"k":"bold","i":-0.49,"v":49.6268,"t":"AvgEntry: 50.21"},
{"k":"bold","i":-0.49,"v":49.5849,"t":"AvgExit: 0"},
{"k":"copy","i":-1.48,"v":49.556,"t":"© 2016 NinjaTrader, LLC"},
{"k":"bold","i":252.06,"v":49.6998,"t":"BaseLine Risk: 38"},
{"k":"bold","i":252.06,"v":49.6567,"t":"GiveBack Risk: 50"},
{"k":"bold","i":252.06,"v":49.6138,"t":"Unrealized PnL: 12"},
{"k":"bold","i":252.06,"v":49.5708,"t":"Realized PnL: 0"},
{"k":"posg","i":202.9,"v":50.211,"t":"0.06"},
{"k":"posw","i":215.7,"v":50.211,"t":"2"}
]
},
"encoding":{
"x":{"field":"i","type":"quantitative","scale":{"domain":[-2.467,291.68],"nice":false,"zero":false},
 "axis":{"values":[5,20,35,50,65,80,95,110,125,140,155,168,184,199,214,229,244,259,274],
  "labelExpr":"['09:19','09:25','09:39','10:16','10:36','11:03','11:20','11:28','11:40','13:05','','Oct 25','01:09','02:06','03:38','05:03','05:25','05:50','06:08'][indexof([5,20,35,50,65,80,95,110,125,140,155,168,184,199,214,229,244,259,274], datum.value)]",
  "title":null,"grid":false,"domain":false,"ticks":true,"tickSize":6,"tickColor":"black","tickWidth":1,
  "labelFont":"Liberation Sans","labelFontSize":20,"labelColor":"black","labelPadding":8,"labelFlush":false,"labelOverlap":false}},
"y":{"field":"v","type":"quantitative","scale":{"domain":[49.53,51.11],"nice":false,"zero":false},
 "axis":{"orient":"right","values":[49.6,49.7,49.8,49.9,50.0,50.1,50.3,50.5,50.6,50.7,50.9],"format":".2f",
  "title":null,"grid":false,"domain":false,"tickSize":6,"tickColor":"black","tickWidth":1,
  "labelFont":"Liberation Sans","labelFontSize":20,"labelColor":"black","labelPadding":6,"labelOverlap":false,"labelFlush":false}}
},
"layer":[
{"data":{"name":"candles"},"mark":{"type":"rule","color":"black","strokeWidth":1},
 "encoding":{
  "y":{"field":"l","type":"quantitative","scale":{"domain":[49.53,51.11],"nice":false,"zero":false},
   "axis":{"orient":"right","values":[49.6,49.7,49.8,49.9,50.0,50.1,50.3,50.5,50.6,50.7,50.9],"format":".2f",
    "title":null,"grid":false,"domain":false,"tickSize":6,"tickColor":"black","tickWidth":1,
    "labelFont":"Liberation Sans","labelFontSize":20,"labelColor":"black","labelPadding":6,"labelOverlap":false,"labelFlush":false}},
  "y2":{"field":"h"}
 }},
{"data":{"name":"candles"},"mark":{"type":"bar","width":4,"stroke":"black","strokeWidth":1},
 "encoding":{
  "y":{"field":"o","type":"quantitative","scale":{"domain":[49.53,51.11],"nice":false,"zero":false},
   "axis":{"orient":"right","values":[49.6,49.7,49.8,49.9,50.0,50.1,50.3,50.5,50.6,50.7,50.9],"format":".2f",
    "title":null,"grid":false,"domain":false,"tickSize":6,"tickColor":"black","tickWidth":1,
    "labelFont":"Liberation Sans","labelFontSize":20,"labelColor":"black","labelPadding":6,"labelOverlap":false,"labelFlush":false}},
  "y2":{"field":"c"},
  "fill":{"condition":{"test":"datum.c < datum.o","value":"black"},"value":"white"}
 }},
{"data":{"name":"bands"},"transform":[{"filter":"datum.s==='r'"}],"mark":{"type":"line","strokeWidth":2},
 "encoding":{"detail":{"field":"g"},"color":{"condition":{"test":"datum.b==='v'","value":"#E4506C"},"value":"#FFC8D2"}}},
{"data":{"name":"bands"},"transform":[{"filter":"datum.s==='e'"}],"mark":{"type":"line","strokeWidth":1.6},
 "encoding":{"detail":{"field":"g"},"color":{"condition":{"test":"datum.b==='v'","value":"#DC143C"},"value":"#FFC0CB"}}},
{"data":{"name":"tlines"},"mark":{"type":"line","strokeWidth":2,"color":"#6495ED"},"encoding":{"detail":{"field":"g"}}},
{"data":{"name":"olines"},"mark":{"type":"rule","strokeWidth":2},
 "encoding":{"x2":{"field":"i2"},"color":{"condition":[{"test":"datum.k==='stp'","value":"#FFB6C1"},{"test":"datum.k==='lmt'","value":"#00E8F0"}],"value":"#DEB887"}}},
{"data":{"name":"olabels"},"mark":{"type":"point","filled":true,"opacity":1,"size":784,"shape":"M0,-1L8.55,-1L9.15,0L8.55,1L0,1Z","stroke":"#222222","strokeWidth":1},
 "encoding":{"fill":{"condition":{"test":"datum.k==='stp'","value":"#FFC0CB"},"value":"#00FFFF"}}},
{"data":{"name":"olabels"},"mark":{"type":"text","align":"left","baseline":"middle","dx":7,"fontSize":21,"color":"black","font":"Liberation Sans"},
 "encoding":{"text":{"field":"t"}}},
{"data":{"name":"xboxes"},"mark":{"type":"point","filled":true,"opacity":1,"size":225,"shape":"M-1,-1L1,-1L1,1L-1,1Z M-0.55,-0.55L0.55,0.55 M0.55,-0.55L-0.55,0.55","fill":"white","stroke":"black","strokeWidth":2}},
{"data":{"name":"execs"},"mark":{"type":"point","filled":true,"opacity":1,"size":225,"shape":"M-0.28,-1L0.28,-1L0.28,0.1L0.85,0.1L0,1L-0.85,0.1L-0.28,0.1Z","color":"#FF00FF"}},
{"data":{"name":"fills"},"mark":{"type":"point","filled":true,"opacity":1,"size":45,"shape":"triangle-right","color":"#FF00FF"}},
{"data":{"name":"tags"},"mark":{"type":"point","filled":true,"opacity":1,"size":760,"shape":"M0,0L0.42,-1L5.55,-1L5.55,1L0.42,1Z","stroke":"#FFFFFF","strokeWidth":0.5},
 "encoding":{
  "fill":{"condition":[
   {"test":"datum.k==='r'","value":"#DC143C"},
   {"test":"datum.k==='t'","value":"#DEB887"},
   {"test":"datum.k==='b'","value":"#000000"},
   {"test":"datum.k==='c'","value":"#00FFFF"}],"value":"#FFC0CB"}}},
{"data":{"name":"tags"},"mark":{"type":"text","align":"left","baseline":"middle","dx":16,"fontSize":20,"font":"Liberation Sans"},
 "encoding":{
  "text":{"field":"t"},
  "color":{"condition":{"test":"datum.k==='r' || datum.k==='b'","value":"#FFFFFF"},"value":"#000000"}}},
{"data":{"name":"texts"},"transform":[{"filter":"datum.k==='ind'"}],"mark":{"type":"text","align":"left","baseline":"middle","fontSize":20.5,"color":"black","font":"Liberation Sans"},"encoding":{"text":{"field":"t"}}},
{"data":{"name":"rects"},"mark":{"type":"rect"},
 "encoding":{"x2":{"field":"i2"},"y2":{"field":"v2"},
  "fill":{"condition":[
   {"test":"datum.k==='rth' || datum.k==='print'","value":"#0000FF"},
   {"test":"datum.k==='eth'","value":"#DC143C"},
   {"test":"datum.k==='orx'","value":"#FF69B4"},
   {"test":"datum.k==='frame'","value":"#A0A0A0"},
   {"test":"datum.k==='enter'","value":"#008000"},
   {"test":"datum.k==='exit'","value":"#FF0000"},
   {"test":"datum.k==='read'","value":"#FFA500"},
   {"test":"datum.k==='posr'","value":"#B00000"}],"value":"#000000"}}},
{"data":{"name":"scroll"},"mark":{"type":"rect","strokeWidth":1},
 "encoding":{"x2":{"field":"i2"},"y2":{"field":"v2"},
  "fill":{"condition":{"test":"datum.k==='track'","value":"#F0F0F0"},"value":"#E8E8E8"},
  "stroke":{"condition":{"test":"datum.k==='track'","value":"#E0E0E0"},"value":"#B8B8B8"}}},
{"data":{"name":"boxes"},"mark":{"type":"rect","stroke":"#0000FF","strokeWidth":2.5},
 "encoding":{"x2":{"field":"i2"},"y2":{"field":"v2"},"fill":{"condition":{"test":"datum.k==='r'","value":"white"},"value":"transparent"}}},
{"data":{"name":"texts"},"transform":[{"filter":"datum.k==='legw' || datum.k==='legb'"}],"mark":{"type":"text","align":"center","baseline":"middle","fontSize":19,"fontWeight":"bold","font":"Liberation Sans"},
 "encoding":{"text":{"field":"t"},"color":{"condition":{"test":"datum.k==='legb'","value":"black"},"value":"white"}}},
{"data":{"name":"texts"},"transform":[{"filter":"datum.k==='btn'"}],"mark":{"type":"text","align":"center","baseline":"middle","fontSize":28,"color":"white","font":"Liberation Sans"},"encoding":{"text":{"field":"t"}}},
{"data":{"name":"texts"},"transform":[{"filter":"datum.k==='bold'"}],"mark":{"type":"text","align":"left","baseline":"middle","fontSize":25,"fontWeight":"bold","color":"black","font":"Liberation Sans"},"encoding":{"text":{"field":"t"}}},
{"data":{"name":"texts"},"transform":[{"filter":"datum.k==='copy'"}],"mark":{"type":"text","align":"left","baseline":"middle","fontSize":20,"color":"black","font":"Liberation Sans"},"encoding":{"text":{"field":"t"}}},
{"data":{"name":"texts"},"transform":[{"filter":"datum.k==='posg' || datum.k==='posw'"}],"mark":{"type":"text","align":"center","baseline":"middle","fontSize":21,"font":"Liberation Sans"},
 "encoding":{"text":{"field":"t"},"color":{"condition":{"test":"datum.k==='posg'","value":"#33CC33"},"value":"white"}}}
]
}
